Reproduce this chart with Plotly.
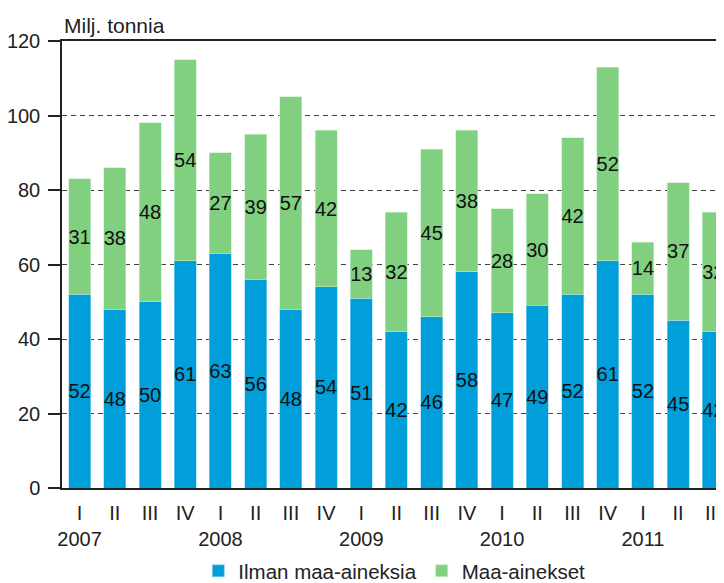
import plotly.graph_objects as go

quarters = ["I", "II", "III", "IV"] * 4 + ["I", "II", "III"]
years = ["2007", "", "", "", "2008", "", "", "", "2009", "", "", "",
         "2010", "", "", "", "2011", "", ""]
ilman = [52, 48, 50, 61, 63, 56, 48, 54, 51, 42, 46, 58, 47, 49, 52, 61, 52, 45, 42]
maa = [31, 38, 48, 54, 27, 39, 57, 42, 13, 32, 45, 38, 28, 30, 42, 52, 14, 37, 32]

x = list(range(len(ilman)))
ticktext = [q + "<br>" + y if y else q for q, y in zip(quarters, years)]

FONT = "Liberation Sans, Arial, sans-serif"

fig = go.Figure()
fig.add_trace(go.Bar(
    x=x, y=ilman, name="Ilman maa-aineksia",
    marker=dict(color="#009FDA", line=dict(color="#8fd3f0", width=0.6)),
    text=ilman, textposition="inside", insidetextanchor="middle",
    textangle=0, constraintext="none",
    textfont=dict(color="#111111", size=20, family=FONT),
    width=0.625,
))
fig.add_trace(go.Bar(
    x=x, y=maa, name="Maa-ainekset",
    marker=dict(color="#80D080", line=dict(color="#c8ecc8", width=0.6)),
    text=maa, textposition="inside", insidetextanchor="middle",
    textangle=0, constraintext="none",
    textfont=dict(color="#111111", size=20, family=FONT),
    width=0.625,
))

# the page body offsets the figure by 8px; the plot area runs past the right edge like the reference
fig.update_layout(
    barmode="stack",
    width=724, height=583,
    margin=dict(l=54, r=0, t=33, b=101.5),
    paper_bgcolor="white", plot_bgcolor="white",
    font=dict(family=FONT, size=20, color="#222222"),
    showlegend=True,
    legend=dict(orientation="h", x=0.496, xanchor="center", y=-0.14, yanchor="top",
                font=dict(size=20.5, family=FONT), itemwidth=30, traceorder="normal"),
    xaxis=dict(
        range=[-0.5, 18.53], tickmode="array", tickvals=x, ticktext=ticktext,
        showline=True, linecolor="#222222", linewidth=1.5, mirror=True,
        ticks="", showgrid=False, zeroline=False, ticklabelstandoff=6,
        tickfont=dict(size=20), automargin=False,
    ),
    yaxis=dict(
        range=[0, 120], tickmode="array", tickvals=[0, 20, 40, 60, 80, 100, 120],
        showline=True, linecolor="#222222", linewidth=1.5,
        ticks="outside", ticklen=12, tickcolor="#222222", tickwidth=1.5,
        showgrid=True, gridcolor="#444444", gridwidth=1, griddash="5px,4px",
        zeroline=False, ticklabelstandoff=4, tickfont=dict(size=20),
        automargin=False,
    ),
    annotations=[dict(text="Milj. tonnia", xref="paper", yref="paper", x=0, y=1,
                      xanchor="left", yanchor="bottom", yshift=2, showarrow=False,
                      font=dict(size=21, family=FONT, color="#222222"))],
)

fig.write_html("out.html")
